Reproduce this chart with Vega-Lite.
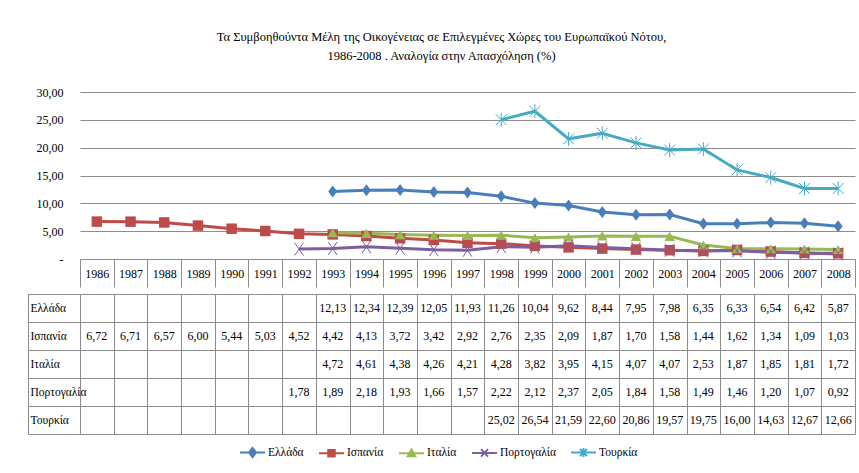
{
  "$schema": "https://vega.github.io/schema/vega-lite/v6.json",
  "padding": {"left": 27, "top": 30, "right": 4, "bottom": 5},
  "background": "white",
  "config": {
    "locale": {"number": {"decimal": ",", "thousands": ".", "grouping": [3], "currency": ["", " €"]}},
    "font": "Liberation Serif, DejaVu Serif Condensed, Liberation Sans Narrow, serif",
    "view": {"stroke": null},
    "concat": {"spacing": 0}
  },
  "title": {
    "text": ["Τα Συμβοηθούντα  Μέλη της Οικογένειας σε Επιλεγμένες Χώρες του Ευρωπαϊκού Νότου,", "1986-2008 .  Αναλογία στην Απασχόληση (%)"],
    "fontSize": 12.5, "fontWeight": "normal", "lineHeight": 19, "anchor": "middle", "offset": 24, "color": "black"
  },
  "data": {"values": [
    {"country": "Ελλάδα", "year": 1993, "value": 12.13},
    {"country": "Ελλάδα", "year": 1994, "value": 12.34},
    {"country": "Ελλάδα", "year": 1995, "value": 12.39},
    {"country": "Ελλάδα", "year": 1996, "value": 12.05},
    {"country": "Ελλάδα", "year": 1997, "value": 11.93},
    {"country": "Ελλάδα", "year": 1998, "value": 11.26},
    {"country": "Ελλάδα", "year": 1999, "value": 10.04},
    {"country": "Ελλάδα", "year": 2000, "value": 9.62},
    {"country": "Ελλάδα", "year": 2001, "value": 8.44},
    {"country": "Ελλάδα", "year": 2002, "value": 7.95},
    {"country": "Ελλάδα", "year": 2003, "value": 7.98},
    {"country": "Ελλάδα", "year": 2004, "value": 6.35},
    {"country": "Ελλάδα", "year": 2005, "value": 6.33},
    {"country": "Ελλάδα", "year": 2006, "value": 6.54},
    {"country": "Ελλάδα", "year": 2007, "value": 6.42},
    {"country": "Ελλάδα", "year": 2008, "value": 5.87},
    {"country": "Ισπανία", "year": 1986, "value": 6.72},
    {"country": "Ισπανία", "year": 1987, "value": 6.71},
    {"country": "Ισπανία", "year": 1988, "value": 6.57},
    {"country": "Ισπανία", "year": 1989, "value": 6.00},
    {"country": "Ισπανία", "year": 1990, "value": 5.44},
    {"country": "Ισπανία", "year": 1991, "value": 5.03},
    {"country": "Ισπανία", "year": 1992, "value": 4.52},
    {"country": "Ισπανία", "year": 1993, "value": 4.42},
    {"country": "Ισπανία", "year": 1994, "value": 4.13},
    {"country": "Ισπανία", "year": 1995, "value": 3.72},
    {"country": "Ισπανία", "year": 1996, "value": 3.42},
    {"country": "Ισπανία", "year": 1997, "value": 2.92},
    {"country": "Ισπανία", "year": 1998, "value": 2.76},
    {"country": "Ισπανία", "year": 1999, "value": 2.35},
    {"country": "Ισπανία", "year": 2000, "value": 2.09},
    {"country": "Ισπανία", "year": 2001, "value": 1.87},
    {"country": "Ισπανία", "year": 2002, "value": 1.70},
    {"country": "Ισπανία", "year": 2003, "value": 1.58},
    {"country": "Ισπανία", "year": 2004, "value": 1.44},
    {"country": "Ισπανία", "year": 2005, "value": 1.62},
    {"country": "Ισπανία", "year": 2006, "value": 1.34},
    {"country": "Ισπανία", "year": 2007, "value": 1.09},
    {"country": "Ισπανία", "year": 2008, "value": 1.03},
    {"country": "Ιταλία", "year": 1993, "value": 4.72},
    {"country": "Ιταλία", "year": 1994, "value": 4.61},
    {"country": "Ιταλία", "year": 1995, "value": 4.38},
    {"country": "Ιταλία", "year": 1996, "value": 4.26},
    {"country": "Ιταλία", "year": 1997, "value": 4.21},
    {"country": "Ιταλία", "year": 1998, "value": 4.28},
    {"country": "Ιταλία", "year": 1999, "value": 3.82},
    {"country": "Ιταλία", "year": 2000, "value": 3.95},
    {"country": "Ιταλία", "year": 2001, "value": 4.15},
    {"country": "Ιταλία", "year": 2002, "value": 4.07},
    {"country": "Ιταλία", "year": 2003, "value": 4.07},
    {"country": "Ιταλία", "year": 2004, "value": 2.53},
    {"country": "Ιταλία", "year": 2005, "value": 1.87},
    {"country": "Ιταλία", "year": 2006, "value": 1.85},
    {"country": "Ιταλία", "year": 2007, "value": 1.81},
    {"country": "Ιταλία", "year": 2008, "value": 1.72},
    {"country": "Πορτογαλία", "year": 1992, "value": 1.78},
    {"country": "Πορτογαλία", "year": 1993, "value": 1.89},
    {"country": "Πορτογαλία", "year": 1994, "value": 2.18},
    {"country": "Πορτογαλία", "year": 1995, "value": 1.93},
    {"country": "Πορτογαλία", "year": 1996, "value": 1.66},
    {"country": "Πορτογαλία", "year": 1997, "value": 1.57},
    {"country": "Πορτογαλία", "year": 1998, "value": 2.22},
    {"country": "Πορτογαλία", "year": 1999, "value": 2.12},
    {"country": "Πορτογαλία", "year": 2000, "value": 2.37},
    {"country": "Πορτογαλία", "year": 2001, "value": 2.05},
    {"country": "Πορτογαλία", "year": 2002, "value": 1.84},
    {"country": "Πορτογαλία", "year": 2003, "value": 1.58},
    {"country": "Πορτογαλία", "year": 2004, "value": 1.49},
    {"country": "Πορτογαλία", "year": 2005, "value": 1.46},
    {"country": "Πορτογαλία", "year": 2006, "value": 1.20},
    {"country": "Πορτογαλία", "year": 2007, "value": 1.07},
    {"country": "Πορτογαλία", "year": 2008, "value": 0.92},
    {"country": "Τουρκία", "year": 1998, "value": 25.02},
    {"country": "Τουρκία", "year": 1999, "value": 26.54},
    {"country": "Τουρκία", "year": 2000, "value": 21.59},
    {"country": "Τουρκία", "year": 2001, "value": 22.60},
    {"country": "Τουρκία", "year": 2002, "value": 20.86},
    {"country": "Τουρκία", "year": 2003, "value": 19.57},
    {"country": "Τουρκία", "year": 2004, "value": 19.75},
    {"country": "Τουρκία", "year": 2005, "value": 16.00},
    {"country": "Τουρκία", "year": 2006, "value": 14.63},
    {"country": "Τουρκία", "year": 2007, "value": 12.67},
    {"country": "Τουρκία", "year": 2008, "value": 12.66}
  ]},
  "vconcat": [
    {
      "width": 775,
      "height": 167,
      "encoding": {
        "x": {"field": "year", "type": "ordinal", "bandPosition": 0.5,
          "scale": {"type": "band", "domain": [1986,1987,1988,1989,1990,1991,1992,1993,1994,1995,1996,1997,1998,1999,2000,2001,2002,2003,2004,2005,2006,2007,2008], "paddingInner": 0, "paddingOuter": 0},
          "axis": {"title": null, "labelAngle": 0, "labelOverlap": false, "domain": true, "domainColor": "#8c8c8c", "ticks": true, "tickBand": "extent", "tickSize": 28, "tickColor": "#8c8c8c", "labelPadding": -14, "labelBaseline": "middle", "labelFontSize": 12, "labelColor": "black", "grid": false}},
        "y": {"field": "value", "type": "quantitative",
          "scale": {"domain": [0, 30], "nice": false},
          "axis": {"title": null, "values": [0, 5, 10, 15, 20, 25, 30], "tickCount": 7, "format": ".2f", "labelExpr": "datum.value == 0 ? '-\u00a0' : datum.label", "domain": false, "ticks": false, "labelPadding": 17, "gridColor": "#8c8c8c", "gridWidth": 1, "labelFontSize": 12, "labelColor": "black", "labelOverlap": false}},
        "color": {"field": "country", "type": "nominal",
          "scale": {"domain": ["Ελλάδα", "Ισπανία", "Ιταλία", "Πορτογαλία", "Τουρκία"], "range": ["#4A7EBB", "#BE4B48", "#98B954", "#7D5FA0", "#46AAC5"]},
          "legend": {"title": null, "orient": "none", "legendX": 159, "legendY": 347, "direction": "horizontal", "symbolSize": 625, "labelFontSize": 11.5, "labelColor": "black", "labelOffset": 2, "columnPadding": 11,
            "encode": {"symbols": {"update": {
              "shape": {"signal": "datum.value === 'Ελλάδα' ? 'M-1,0L1,0M0,-0.36L0.28,0L0,0.36L-0.28,0Z' : datum.value === 'Ισπανία' ? 'M-1,0L1,0M-0.26,-0.26L0.26,-0.26L0.26,0.26L-0.26,0.26Z' : datum.value === 'Ιταλία' ? 'M-1,0L1,0M0,-0.3L0.3,0.24L-0.3,0.24Z' : datum.value === 'Πορτογαλία' ? 'M-1,0L1,0M-0.28,-0.3L0.28,0.3M0.28,-0.3L-0.28,0.3' : 'M-1,0L1,0M-0.28,-0.28L0.28,0.28M0.28,-0.28L-0.28,0.28M0,-0.36L0,0.36'"},
              "fill": {"signal": "scale('color', datum.value)"},
              "stroke": {"signal": "scale('color', datum.value)"},
              "strokeWidth": {"value": 2},
              "opacity": {"value": 1}
            }}}}}
      },
      "layer": [
        {"mark": {"type": "line", "strokeWidth": 3}},
        {"transform": [{"filter": "datum.country === 'Ελλάδα'"}],
         "mark": {"type": "point", "filled": true, "opacity": 1, "size": 100, "shape": "M0,-1.2L0.9,0L0,1.2L-0.9,0Z"}},
        {"transform": [{"filter": "datum.country === 'Ισπανία'"}],
         "mark": {"type": "point", "filled": true, "opacity": 1, "size": 110, "shape": "square"}},
        {"transform": [{"filter": "datum.country === 'Ιταλία'"}],
         "mark": {"type": "point", "filled": true, "opacity": 1, "size": 110, "shape": "triangle-up"}},
        {"transform": [{"filter": "datum.country === 'Πορτογαλία'"}],
         "mark": {"type": "point", "filled": false, "opacity": 1, "size": 100, "strokeWidth": 1, "shape": "M-0.9,-1.3L0.9,1.3M0.9,-1.3L-0.9,1.3"}},
        {"transform": [{"filter": "datum.country === 'Τουρκία'"}],
         "mark": {"type": "point", "filled": false, "opacity": 1, "size": 100, "strokeWidth": 1, "shape": "M-1.1,-1.1L1.1,1.1M1.1,-1.1L-1.1,1.1M0,-1.4L0,1.4"}}
      ]
    },
    {
      "width": 775,
      "height": 140,
      "layer": [
        {
          "mark": {"type": "text", "fontSize": 12, "color": "black"},
          "encoding": {
            "x": {"field": "year", "type": "ordinal", "bandPosition": 0.5,
              "scale": {"type": "band", "domain": [1986,1987,1988,1989,1990,1991,1992,1993,1994,1995,1996,1997,1998,1999,2000,2001,2002,2003,2004,2005,2006,2007,2008], "paddingInner": 0, "paddingOuter": 0},
              "axis": {"title": null, "labels": false, "ticks": false, "domain": false, "grid": true, "tickBand": "extent", "gridColor": "#8c8c8c", "orient": "top"}},
            "y": {"field": "country", "type": "nominal", "bandPosition": 0.5,
              "scale": {"type": "band", "domain": ["Ελλάδα", "Ισπανία", "Ιταλία", "Πορτογαλία", "Τουρκία"], "paddingInner": 0, "paddingOuter": 0},
              "axis": {"title": null, "grid": true, "tickBand": "extent", "gridColor": "#8c8c8c", "ticks": true, "tickSize": 52, "tickColor": "#8c8c8c", "domain": false, "labelAlign": "left", "labelPadding": -2, "labelFontSize": 11.5, "labelColor": "black", "labelBaseline": "middle"}},
            "text": {"field": "value", "type": "quantitative", "format": ".2f"}
          }
        },
        {
          "mark": {"type": "text", "opacity": 0},
          "encoding": {
            "x": {"field": "year", "type": "ordinal", "bandPosition": 0.5},
            "y": {"field": "country", "type": "nominal", "bandPosition": 0.5,
              "axis": {"title": null, "orient": "left", "offset": 52, "labels": false, "ticks": false, "grid": false, "domain": true, "domainColor": "#8c8c8c"}},
            "text": {"field": "value", "type": "quantitative", "format": ".2f"}
          }
        }
      ],
      "resolve": {"axis": {"y": "independent"}}
    }
  ]
}
